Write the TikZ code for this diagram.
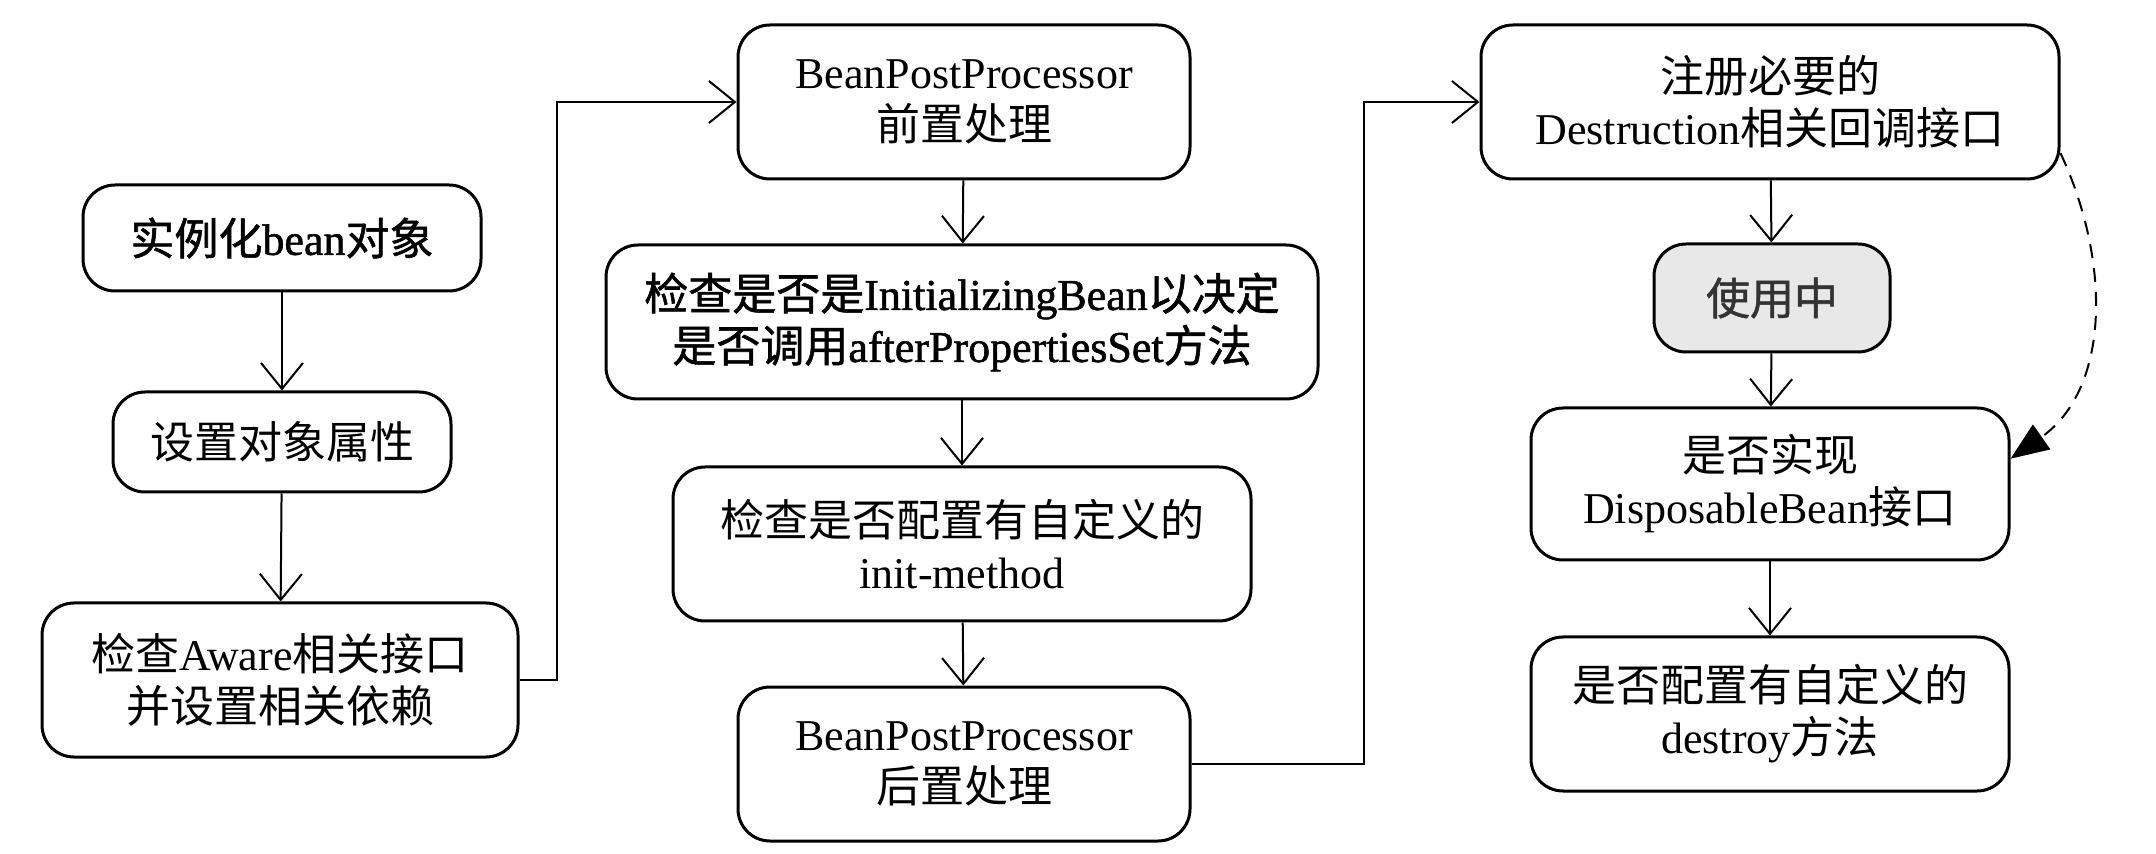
\documentclass[tikz,border=0pt]{standalone}
\usepackage{fontspec}
\setmainfont{Liberation Serif}
\newfontfamily\cjk{Noto Sans CJK SC}
\newfontfamily\cjkheavy{Noto Sans CJK SC}[FakeBold=1.2]
\newfontfamily\romheavy{Liberation Serif}[FakeBold=1.2]
\usetikzlibrary{arrows.meta}
\newcommand{\zh}[1]{{\cjk #1}}
\newcommand{\zhb}[1]{{\cjkheavy #1}}

\begin{document}
\begin{tikzpicture}[x=1pt,y=1pt,
		stage/.style={draw, line width=1.5pt, rounded corners=16pt, align=center,
			inner sep=0pt, font=\fontsize{22}{26}\selectfont},
		inuse/.style={stage, fill=black!9, text=black!80},
		flow/.style={-{Straight Barb[length=13pt,width=21pt]}, line width=1pt},
		back/.style={line width=1pt, dash pattern=on 7pt off 5pt,
			-{Triangle[length=19pt,width=15pt]}}]
		\useasboundingbox (0,0) rectangle (1078,-427);
		% left column
		\node[stage, minimum width=199pt, minimum height=53pt] (inst) at (141,-119) {\romheavy\zhb{实例化}bean\zhb{对象}};
		\node[stage, minimum width=169pt, minimum height=50pt] (props) at (141,-221) {\zh{设置对象属性}};
		\node[stage, minimum width=238pt, minimum height=77pt] (aware) at (140,-340) {\zh{检查}Aware\zh{相关接口}\\\zh{并设置相关依赖}};
		% middle column
		\node[stage, minimum width=226pt, minimum height=77pt] (pre) at (482,-51) {BeanPostProcessor\\\zh{前置处理}};
		\node[stage, minimum width=356pt, minimum height=77pt] (initb) at (481,-161) {\romheavy\zhb{检查是否是}InitializingBean\zhb{以决定}\\\romheavy\zhb{是否调用}afterPropertiesSet\zhb{方法}};
		\node[stage, minimum width=289pt, minimum height=77pt] (initm) at (481,-272) {\zh{检查是否配置有自定义的}\\init-method};
		\node[stage, minimum width=226pt, minimum height=77pt] (post) at (482,-382) {BeanPostProcessor\\\zh{后置处理}};
		% right column
		\node[stage, minimum width=289pt, minimum height=77pt] (destr) at (885,-51) {\zh{注册必要的}\\Destruction\zh{相关回调接口}};
		\node[inuse, minimum width=118pt, minimum height=54pt] (use) at (886,-149) {\zhb{使用中}};
		\node[stage, minimum width=239pt, minimum height=76pt] (disp) at (885,-242) {\zh{是否实现}\\DisposableBean\zh{接口}};
		\node[stage, minimum width=239pt, minimum height=77pt] (destroy) at (885,-357) {\zh{是否配置有自定义的}\\destroy\zh{方法}};

		\draw[flow] (inst) -- (props);
		\draw[flow] (props) -- (aware);
		\draw[flow] (aware.east) -- ++(18.5pt,0) |- (pre.west);
		\draw[flow] (pre) -- (initb);
		\draw[flow] (initb) -- (initm);
		\draw[flow] (initm) -- (post);
		\draw[flow] (post.east) -- ++(86pt,0) |- (destr.west);
		\draw[flow] (destr) -- (use);
		\draw[flow] (use) -- (disp);
		\draw[flow] (disp) -- (destroy);
		\draw[back] (destr.-10) to[out=-65,in=35] (disp.6);
\end{tikzpicture}
\end{document}
